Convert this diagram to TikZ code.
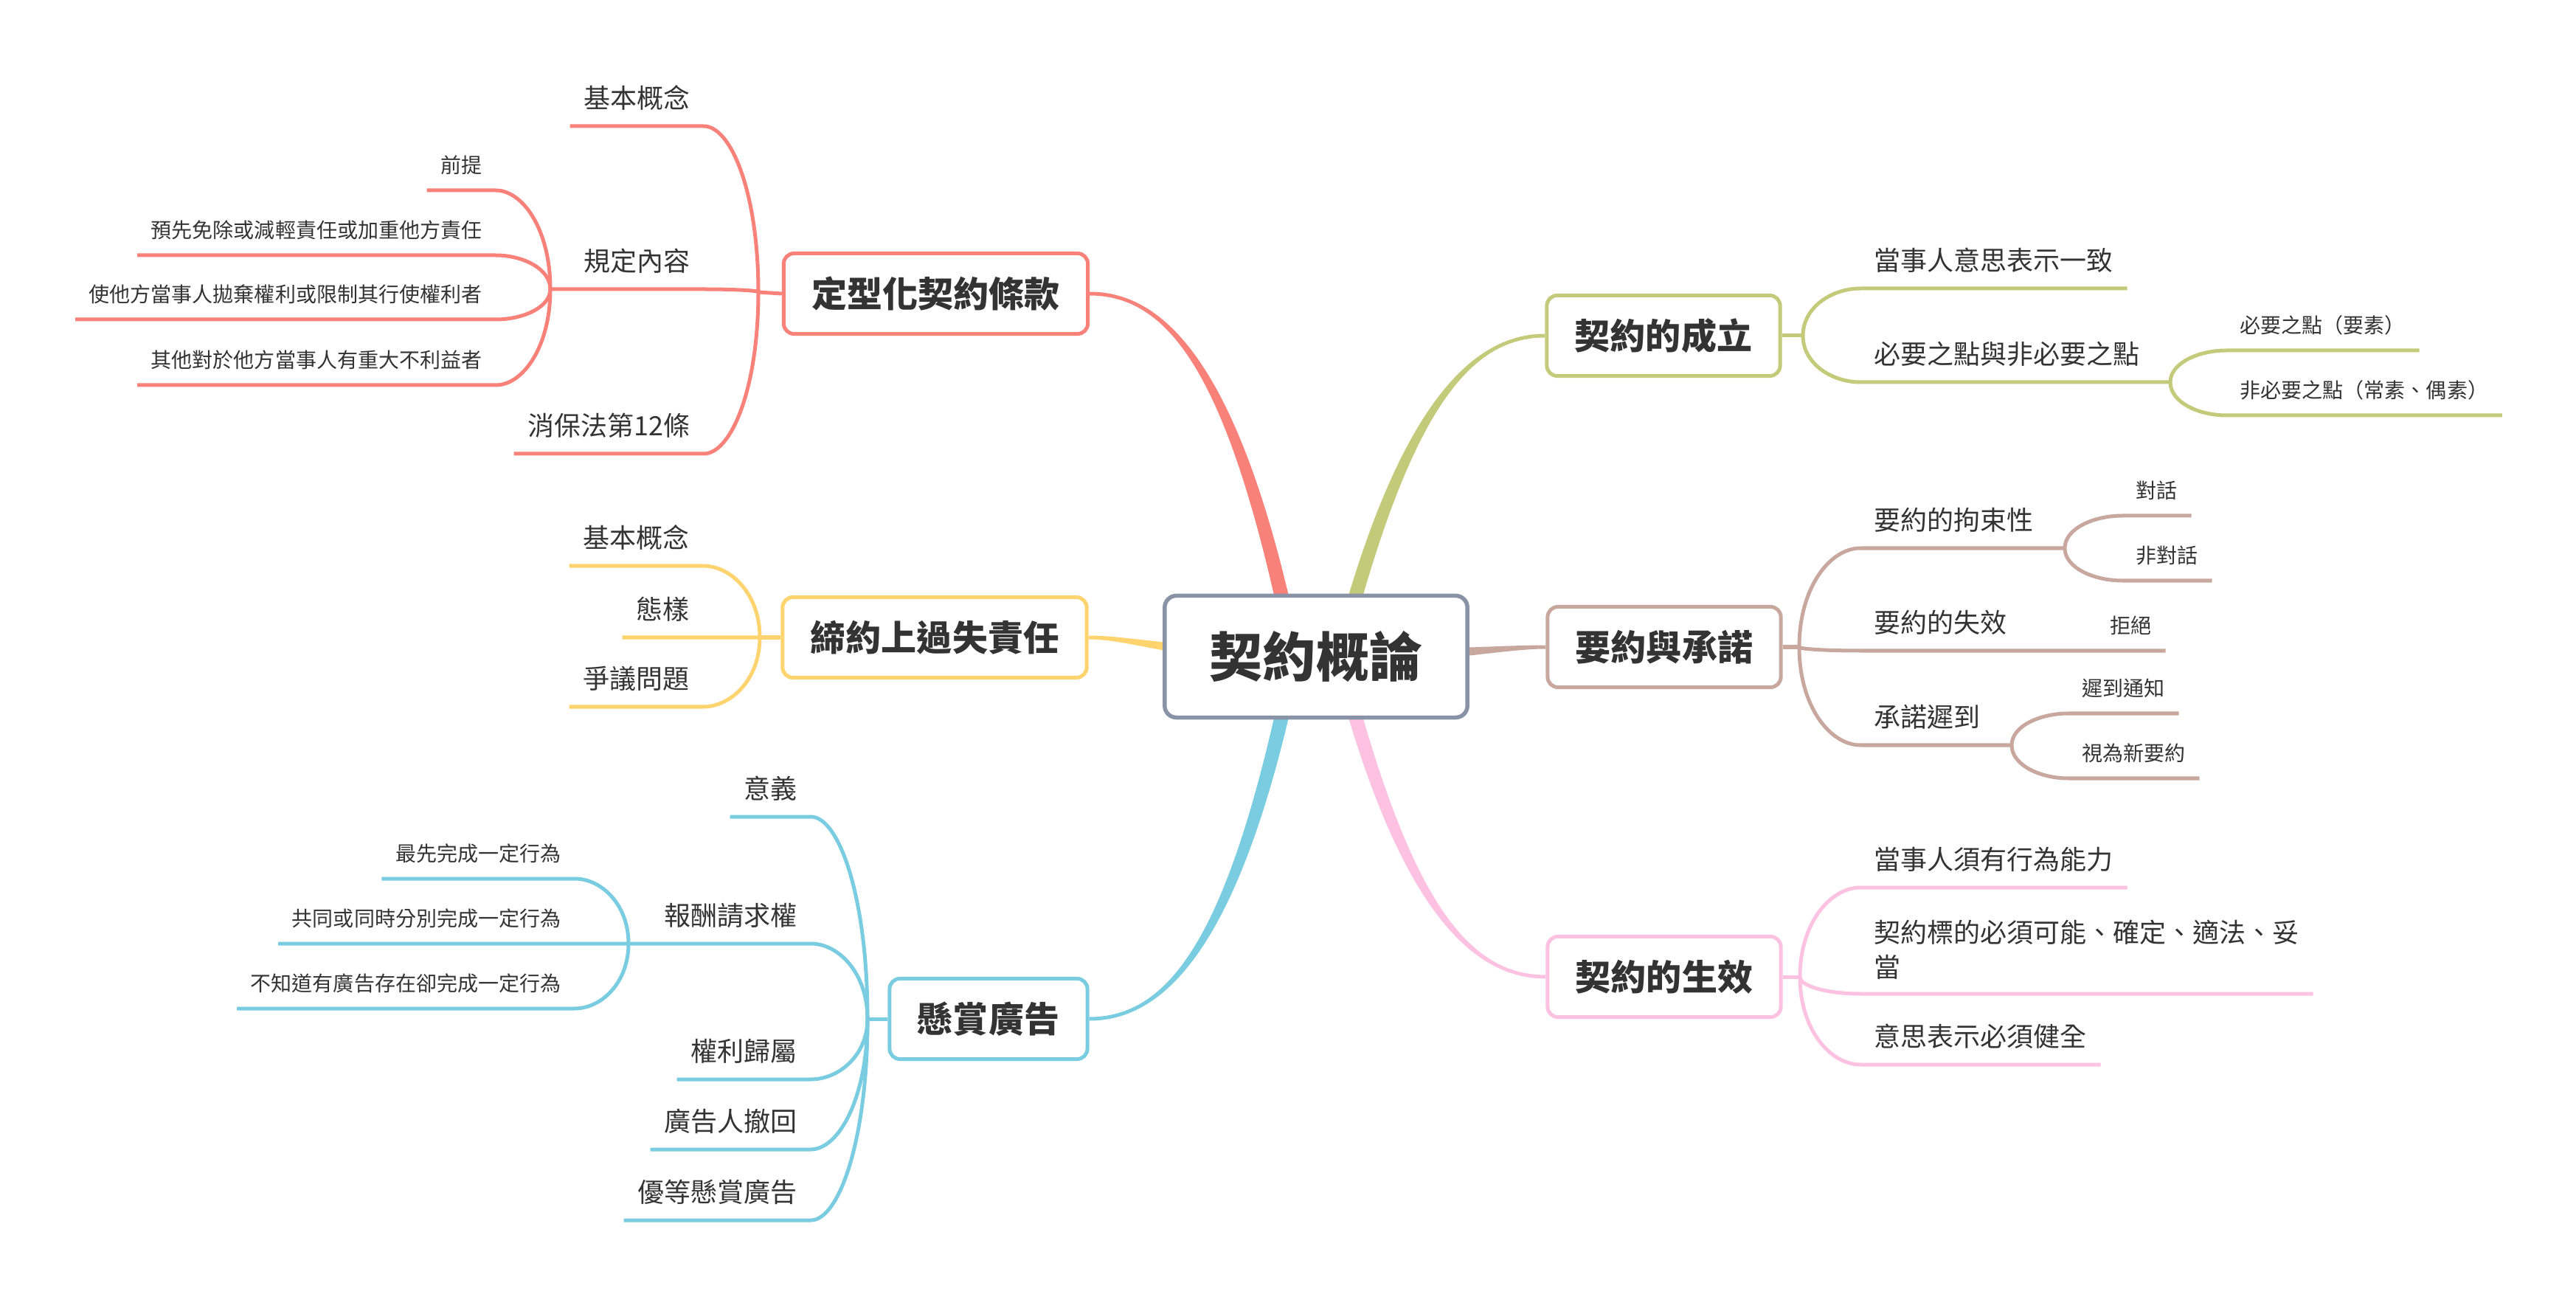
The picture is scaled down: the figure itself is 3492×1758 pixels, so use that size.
\documentclass[tikz,border=0pt]{standalone}
\usepackage{fontspec}
\setmainfont{Noto Sans CJK TC}
\usetikzlibrary{calc}
\pgfdeclarelayer{bg}
\pgfsetlayers{bg,main}
\definecolor{txt}{RGB}{51,51,51}
\definecolor{csal}{RGB}{248,130,122}
\definecolor{cyel}{RGB}{255,211,110}
\definecolor{ccya}{RGB}{122,204,224}
\definecolor{cgrn}{RGB}{195,202,122}
\definecolor{cbrn}{RGB}{200,168,158}
\definecolor{cpnk}{RGB}{253,194,226}
\definecolor{croot}{RGB}{136,148,166}
\newcommand\crv[3]{\draw[#1] (#2) .. controls ($(#2)!0.6!(#2|-#3)$) and ($(#3)!0.5!(#3-|#2)$) .. (#3)}
\tikzset{
  rootbox/.style={draw=croot, fill=white, rounded corners=0.16cm, line width=0.55mm,
    font=\bfseries\fontsize{20.5}{24}\selectfont, text height=18pt, text depth=2.46pt,
    inner xsep=0.61cm, minimum height=1.65cm, text=txt},
  box/.style={draw=#1, fill=white, rounded corners=0.14cm, line width=0.5mm,
    font=\bfseries\fontsize{13.66}{16}\selectfont, text height=12pt, text depth=1.64pt,
    inner xsep=0.38cm, minimum height=1.09cm, text=txt},
  ltwo/.style={font=\fontsize{10.24}{13.4}\selectfont, text height=9pt, text depth=1.23pt,
    inner xsep=0.18cm, inner ysep=0.19cm, text=txt},
  lthree/.style={font=\fontsize{7.97}{10}\selectfont, text height=7pt, text depth=0.96pt,
    inner xsep=0.18cm, inner ysep=0.19cm, text=txt},
  ln/.style={draw=#1, line width=0.5mm, line join=round},
}
\begin{document}
\begin{tikzpicture}[x=0.01cm,y=-0.01cm]
\useasboundingbox (0,0) rectangle (3492,1758);

% root and main boxes
\node[rootbox] (root) at (1784,890) {契約概論};
\node[box=csal] (nA) at (1268.5,398) {定型化契約條款};
\node[box=cyel] (nB) at (1267,864) {締約上過失責任};
\node[box=ccya] (nC) at (1340,1381) {懸賞廣告};
\node[box=cgrn] (nD) at (2255,455) {契約的成立};
\node[box=cbrn] (nE) at (2256,877) {要約與承諾};
\node[box=cpnk] (nF) at (2256,1324) {契約的生效};

% ---------- group A (salmon)
\coordinate (JA) at (1028,396);
\coordinate (JA2) at (746,392);
\node[ltwo, anchor=south east] (a1) at (954,171) {基本概念};
\node[ltwo, anchor=south east] (a2) at (954,392) {規定內容};
\node[lthree, anchor=south east] (a21) at (672,258) {前提};
\node[lthree, anchor=south east] (a22) at (672,346) {預先免除或減輕責任或加重他方責任};
\node[lthree, anchor=south east] (a23) at (672,433) {使他方當事人拋棄權利或限制其行使權利者};
\node[lthree, anchor=south east] (a24) at (672,522) {其他對於他方當事人有重大不利益者};
\node[ltwo, anchor=south east] (a3) at (954,615) {消保法第12條};
\draw[ln=csal] (nA.west) -- (JA);
\crv{ln=csal}{JA}{a1.south east} -- (a1.south west);
\crv{ln=csal}{JA}{a2.south east} -- (JA2);
\crv{ln=csal}{JA}{a3.south east} -- (a3.south west);
\crv{ln=csal}{JA2}{a21.south east} -- (a21.south west);
\crv{ln=csal}{JA2}{a22.south east} -- (a22.south west);
\crv{ln=csal}{JA2}{a23.south east} -- (a23.south west);
\crv{ln=csal}{JA2}{a24.south east} -- (a24.south west);

% ---------- group B (yellow)
\coordinate (JB) at (1030,864);
\node[ltwo, anchor=south east] (b1) at (953,767) {基本概念};
\node[ltwo, anchor=south east] (b2) at (953,864) {態樣};
\node[ltwo, anchor=south east] (b3) at (953,958) {爭議問題};
\draw[ln=cyel] (nB.west) -- (JB);
\crv{ln=cyel}{JB}{b1.south east} -- (b1.south west);
\crv{ln=cyel}{JB}{b2.south east} -- (b2.south west);
\crv{ln=cyel}{JB}{b3.south east} -- (b3.south west);

% ---------- group C (cyan)
\coordinate (JC) at (1176,1381);
\coordinate (JC2) at (852,1279);
\node[ltwo, anchor=south east] (c1) at (1099,1107) {意義};
\node[ltwo, anchor=south east] (c2) at (1099,1279) {報酬請求權};
\node[lthree, anchor=south east] (c21) at (779,1191) {最先完成一定行為};
\node[lthree, anchor=south east] (c22) at (779,1279) {共同或同時分別完成一定行為};
\node[lthree, anchor=south east] (c23) at (779,1367) {不知道有廣告存在卻完成一定行為};
\node[ltwo, anchor=south east] (c3) at (1099,1463) {權利歸屬};
\node[ltwo, anchor=south east] (c4) at (1099,1558) {廣告人撤回};
\node[ltwo, anchor=south east] (c5) at (1099,1654) {優等懸賞廣告};
\draw[ln=ccya] (nC.west) -- (JC);
\crv{ln=ccya}{JC}{c1.south east} -- (c1.south west);
\crv{ln=ccya}{JC}{c2.south east} -- (JC2);
\crv{ln=ccya}{JC}{c3.south east} -- (c3.south west);
\crv{ln=ccya}{JC}{c4.south east} -- (c4.south west);
\crv{ln=ccya}{JC}{c5.south east} -- (c5.south west);
\crv{ln=ccya}{JC2}{c21.south east} -- (c21.south west);
\crv{ln=ccya}{JC2}{c22.south east} -- (c22.south west);
\crv{ln=ccya}{JC2}{c23.south east} -- (c23.south west);

% ---------- group D (green)
\coordinate (JD) at (2444,455);
\coordinate (JD2) at (2942,518);
\node[ltwo, anchor=south west] (d1) at (2522,391) {當事人意思表示一致};
\node[ltwo, anchor=south west] (d2) at (2522,518) {必要之點與非必要之點};
\node[lthree, anchor=south west] (d21) at (3018,475) {必要之點（要素）};
\node[lthree, anchor=south west] (d22) at (3018,563) {非必要之點（常素、偶素）};
\draw[ln=cgrn] (nD.east) -- (JD);
\crv{ln=cgrn}{JD}{d1.south west} -- (d1.south east);
\crv{ln=cgrn}{JD}{d2.south west} -- (JD2);
\crv{ln=cgrn}{JD2}{d21.south west} -- (d21.south east);
\crv{ln=cgrn}{JD2}{d22.south west} -- (d22.south east);

% ---------- group E (brown)
\coordinate (JE) at (2439,877);
\coordinate (JE1) at (2799,743);
\coordinate (JE3) at (2727,1010);
\node[ltwo, anchor=south west] (e1) at (2522,743) {要約的拘束性};
\node[lthree, anchor=south west] (e11) at (2877,699) {對話};
\node[lthree, anchor=south west] (e12) at (2877,787) {非對話};
\node[ltwo, anchor=south west] (e2) at (2522,882) {要約的失效};
\node[lthree, anchor=south west] (e21) at (2842,882) {拒絕};
\node[ltwo, anchor=south west] (e3) at (2522,1010) {承諾遲到};
\node[lthree, anchor=south west] (e31) at (2804,967) {遲到通知};
\node[lthree, anchor=south west] (e32) at (2804,1055) {視為新要約};
\draw[ln=cbrn] (nE.east) -- (JE);
\crv{ln=cbrn}{JE}{e1.south west} -- (JE1);
\crv{ln=cbrn}{JE}{e2.south west} -- (e21.south east);
\crv{ln=cbrn}{JE}{e3.south west} -- (JE3);
\crv{ln=cbrn}{JE1}{e11.south west} -- (e11.south east);
\crv{ln=cbrn}{JE1}{e12.south west} -- (e12.south east);
\crv{ln=cbrn}{JE3}{e31.south west} -- (e31.south east);
\crv{ln=cbrn}{JE3}{e32.south west} -- (e32.south east);

% ---------- group F (pink)
\coordinate (JF) at (2440,1324);
\node[ltwo, anchor=south west] (f1) at (2522,1203) {當事人須有行為能力};
\node[font=\fontsize{10.24}{13.4}\selectfont, inner xsep=0.18cm, inner ysep=0.19cm, text=txt,
  align=left, anchor=south west] (f2) at (2522,1347) {契約標的必須可能、確定、適法、妥\\當};
\node[ltwo, anchor=south west] (f3) at (2522,1443) {意思表示必須健全};
\draw[ln=cpnk] (nF.east) -- (JF);
\crv{ln=cpnk}{JF}{f1.south west} -- (f1.south east);
\crv{ln=cpnk}{JF}{f2.south west} -- (f2.south east);
\crv{ln=cpnk}{JF}{f3.south west} -- (f3.south east);

% ---------- main tapered branches
\begin{pgfonlayer}{bg}
\fill[csal] ($(nA.east)+(0,-2.5)$) .. controls +(113,0) and +(-75,-370) .. ($(root.center)+(-19,0)$)
  -- ($(root.center)+(-39,0)$) .. controls +(-75,-370) and +(113,0) .. ($(nA.east)+(0,2.5)$) -- cycle;
\fill[ccya] ($(nC.east)+(0,2.5)$) .. controls +(113,0) and +(-75,370) .. ($(root.center)+(-19,0)$)
  -- ($(root.center)+(-39,0)$) .. controls +(-75,370) and +(113,0) .. ($(nC.east)+(0,-2.5)$) -- cycle;
\fill[cgrn] ($(nD.west)+(0,-2.5)$) .. controls +(-104,0) and +(85,-330) .. ($(root.center)+(21,0)$)
  -- ($(root.center)+(41,0)$) .. controls +(85,-330) and +(-104,0) .. ($(nD.west)+(0,2.5)$) -- cycle;
\fill[cpnk] ($(nF.west)+(0,2.5)$) .. controls +(-106,0) and +(85,330) .. ($(root.center)+(21,0)$)
  -- ($(root.center)+(41,0)$) .. controls +(85,330) and +(-106,0) .. ($(nF.west)+(0,-2.5)$) -- cycle;
\fill[cbrn] ($(nE.west)+(0,-2.5)$) .. controls +(-60,0) and +(180,0) .. ($(root.center)+(0,-9)$)
  -- ($(root.center)+(0,9)$) .. controls +(180,0) and +(-60,0) .. ($(nE.west)+(0,2.5)$) -- cycle;
\fill[cyel] ($(nB.east)+(0,-2.5)$) .. controls +(60,0) and +(-180,0) .. ($(root.center)+(0,-9)$)
  -- ($(root.center)+(0,9)$) .. controls +(-180,0) and +(60,0) .. ($(nB.east)+(0,2.5)$) -- cycle;
\end{pgfonlayer}
\end{tikzpicture}
\end{document}
